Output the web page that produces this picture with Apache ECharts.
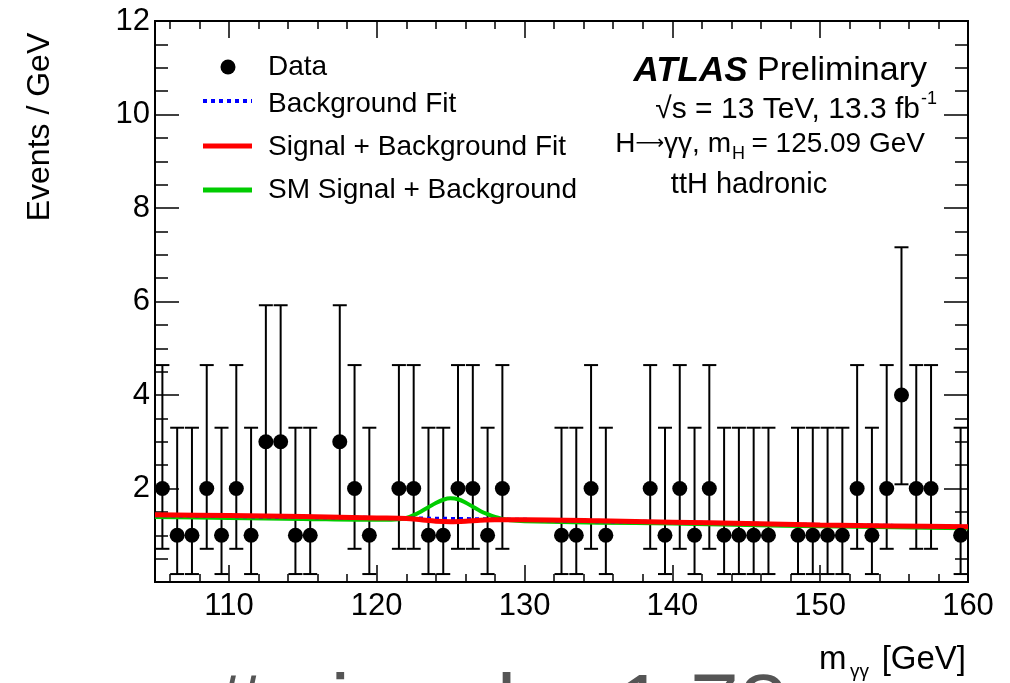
<!DOCTYPE html>
<html>
<head>
<meta charset="utf-8">
<script src="https://cdn.jsdelivr.net/npm/echarts@6/dist/echarts.min.js"></script>
<style>html,body{margin:0;padding:0;background:#fff;}#chart{width:1010px;height:683px;}</style>
</head>
<body>
<div id="chart"></div>
<script>
// ---- data ----
const massBins = [105.5,106.5,107.5,108.5,109.5,110.5,111.5,112.5,113.5,114.5,115.5,117.5,118.5,119.5,121.5,122.5,123.5,124.5,125.5,126.5,127.5,128.5,132.5,133.5,134.5,135.5,138.5,139.5,140.5,141.5,142.5,143.5,144.5,145.5,146.5,148.5,149.5,150.5,151.5,152.5,153.5,154.5,155.5,156.5,157.5,159.5];
const events = [2,1,1,2,1,2,1,3,3,1,1,3,2,1,2,2,1,1,2,2,1,2,1,1,2,1,2,1,2,1,2,1,1,1,1,1,1,1,1,2,1,2,4,2,2,1];
const barLow = [0.71,0.17,0.17,0.71,0.17,0.71,0.17,1.37,1.37,0.17,0.17,1.37,0.71,0.17,0.71,0.71,0.17,0.17,0.71,0.71,0.17,0.71,0.17,0.17,0.71,0.17,0.71,0.17,0.71,0.17,0.71,0.17,0.17,0.17,0.17,0.17,0.17,0.17,0.17,0.71,0.17,0.71,2.09,0.71,0.71,0.17];
const barHigh = [4.64,3.30,3.30,4.64,3.30,4.64,3.30,5.92,5.92,3.30,3.30,5.92,4.64,3.30,4.64,4.64,3.30,3.30,4.64,4.64,3.30,4.64,3.30,3.30,4.64,3.30,4.64,3.30,4.64,3.30,4.64,3.30,3.30,3.30,3.30,3.30,3.30,3.30,3.30,4.64,3.30,4.64,7.16,4.64,4.64,3.30];

const bkgMass = [105,110,115,120,125,130,135,140,145,150,155,160];
const bkgFit  = [1.43,1.41,1.39,1.37,1.35,1.33,1.30,1.28,1.25,1.22,1.20,1.18];

const sbMass = [105,110,115,120,122,123,124,125,126,127,128,130,135,140,145,150,155,160];
const sbFit  = [1.44,1.42,1.40,1.37,1.36,1.33,1.30,1.29,1.30,1.32,1.33,1.33,1.31,1.28,1.25,1.22,1.20,1.18];

const smMass = [105,110,115,120,121,121.5,122,122.5,123,123.5,124,124.5,125,125.5,126,126.5,127,127.5,128,128.5,129,130,135,140,145,150,155,160];
const smFit  = [1.39,1.37,1.35,1.33,1.33,1.34,1.37,1.43,1.51,1.60,1.69,1.76,1.79,1.77,1.70,1.61,1.52,1.45,1.39,1.35,1.32,1.30,1.27,1.25,1.22,1.19,1.17,1.15];

const xMajorTicks = [110,120,130,140,150,160];
const xMinorTicks = [106,108,112,114,116,118,122,124,126,128,132,134,136,138,142,144,146,148,152,154,156,158];

const FONT = '"Liberation Sans", Arial, Helvetica, sans-serif';

const chart = echarts.init(document.getElementById('chart'), null, {renderer:'canvas'});

function pairs(xs, ys){ return xs.map((x,i)=>[x, ys[i]]); }

function xAx(pos, major, labels){
  return {
    type:'value', min:105, max:160, position:pos,
    axisLine:{show:true, onZero:false, lineStyle:{color:'#000', width:2}},
    axisTick:{show:true, inside:true, length: major?17:8, customValues: major?xMajorTicks:xMinorTicks, lineStyle:{color:'#000', width:1.5}},
    axisLabel:{show:labels, customValues:xMajorTicks, fontSize:31, color:'#000', fontFamily:FONT, margin:9},
    splitLine:{show:false}
  };
}
function yAx(pos, labels){
  return {
    type:'value', min:0, max:12, interval:2, position:pos,
    axisLine:{show:true, onZero:false, lineStyle:{color:'#000', width:2}},
    axisTick:{show:true, inside:true, length:24, lineStyle:{color:'#000', width:1.5}},
    minorTick:{show:true, splitNumber:4, length:13, lineStyle:{color:'#000', width:1.5}},
    axisLabel:{show:labels, fontSize:31, color:'#000', fontFamily:FONT, margin:5,
      formatter:(v)=> v===0 ? '' : String(v)},
    splitLine:{show:false}, minorSplitLine:{show:false}
  };
}

const errData = massBins.map((m,i)=>[m, barLow[i], barHigh[i]]);

const option = {
  backgroundColor:'#fff',
  animation:false,
  grid:{left:155, right:42, top:21, bottom:101, containLabel:false},
  xAxis:[xAx('bottom',true,true), xAx('bottom',false,false), xAx('top',true,false), xAx('top',false,false)],
  yAxis:[yAx('left',true), yAx('right',false)],
  series:[
    {
      type:'custom', name:'errors', xAxisIndex:0, yAxisIndex:0, z:3,
      renderItem:function(params, api){
        const x = api.value(0);
        const p1 = api.coord([x, api.value(1)]);
        const p2 = api.coord([x, api.value(2)]);
        const hw = 7;
        const st = {stroke:'#000', lineWidth:2};
        return {type:'group', children:[
          {type:'line', shape:{x1:p1[0], y1:p1[1], x2:p2[0], y2:p2[1]}, style:st},
          {type:'line', shape:{x1:p1[0]-hw, y1:p1[1], x2:p1[0]+hw, y2:p1[1]}, style:st},
          {type:'line', shape:{x1:p2[0]-hw, y1:p2[1], x2:p2[0]+hw, y2:p2[1]}, style:st}
        ]};
      },
      data: errData
    },
    {
      type:'line', name:'SM Signal + Background', xAxisIndex:0, yAxisIndex:0, z:4,
      data: pairs(smMass, smFit), showSymbol:false, smooth:0.3,
      lineStyle:{color:'#00cc00', width:4}
    },
    {
      type:'line', name:'Background Fit', xAxisIndex:0, yAxisIndex:0, z:5,
      data: pairs(bkgMass, bkgFit), showSymbol:false,
      lineStyle:{color:'#0000ff', width:4, type:[4,4]}
    },
    {
      type:'line', name:'Signal + Background Fit', xAxisIndex:0, yAxisIndex:0, z:6,
      data: pairs(sbMass, sbFit), showSymbol:false, smooth:0.3,
      lineStyle:{color:'#ff0000', width:5}
    },
    {
      type:'scatter', name:'Data', xAxisIndex:0, yAxisIndex:0, z:7,
      data: pairs(massBins, events), symbol:'circle', symbolSize:15,
      itemStyle:{color:'#000', opacity:1}
    }
  ],
  graphic:[
    // legend
    {type:'circle', shape:{cx:228, cy:67, r:7.5}, style:{fill:'#000'}},
    {type:'line', shape:{x1:203, y1:101, x2:252, y2:101}, style:{stroke:'#0000ff', lineWidth:4, lineDash:[4,4]}},
    {type:'line', shape:{x1:203, y1:146, x2:252, y2:146}, style:{stroke:'#ff0000', lineWidth:5}},
    {type:'line', shape:{x1:203, y1:190, x2:252, y2:190}, style:{stroke:'#00cc00', lineWidth:5}},
    {type:'text', x:268, y:67, style:{text:'Data', font:'28px '+FONT, fill:'#000', textAlign:'left', textVerticalAlign:'middle'}},
    {type:'text', x:268, y:104, style:{text:'Background Fit', font:'28px '+FONT, fill:'#000', textAlign:'left', textVerticalAlign:'middle'}},
    {type:'text', x:268, y:147, style:{text:'Signal + Background Fit', font:'28px '+FONT, fill:'#000', textAlign:'left', textVerticalAlign:'middle'}},
    {type:'text', x:268, y:190, style:{text:'SM Signal + Background', font:'28px '+FONT, fill:'#000', textAlign:'left', textVerticalAlign:'middle'}},
    // ATLAS label
    {type:'text', x:927, y:71, style:{text:'{b|ATLAS}{n| Preliminary}', textAlign:'right', textVerticalAlign:'middle',
      rich:{b:{font:'italic bold 35px '+FONT, fill:'#000'}, n:{font:'34px '+FONT, fill:'#000'}}}},
    {type:'text', x:920, y:110, style:{text:'\u221As = 13 TeV, 13.3 fb', font:'30px '+FONT, fill:'#000', textAlign:'right', textVerticalAlign:'middle'}},
    {type:'text', x:921, y:99, style:{text:'-1', font:'18px '+FONT, fill:'#000', textAlign:'left', textVerticalAlign:'middle'}},
    {type:'text', x:731, y:144, style:{text:'{a|H}{r|\u27F6}{a|\u03B3\u03B3, m}', textAlign:'right', textVerticalAlign:'middle',
      rich:{a:{font:'28px '+FONT, fill:'#000'}, r:{font:'20px "DejaVu Sans", '+FONT, fill:'#000'}}}},
    {type:'text', x:732, y:154, style:{text:'H', font:'18px '+FONT, fill:'#000', textAlign:'left', textVerticalAlign:'middle'}},
    {type:'text', x:925, y:144, style:{text:' = 125.09 GeV', font:'28px '+FONT, fill:'#000', textAlign:'right', textVerticalAlign:'middle'}},
    {type:'text', x:749, y:185, style:{text:'ttH hadronic', font:'29px '+FONT, fill:'#000', textAlign:'center', textVerticalAlign:'middle'}},
    // axis titles
    {type:'text', x:40, y:127, rotation:Math.PI/2, style:{text:'Events / GeV', font:'32px '+FONT, fill:'#000', textAlign:'center', textVerticalAlign:'middle'}},
    {type:'text', x:819, y:660, style:{text:'m', font:'33px '+FONT, fill:'#000', textAlign:'left', textVerticalAlign:'middle'}},
    {type:'text', x:850, y:672, style:{text:'\u03B3\u03B3', font:'19px '+FONT, fill:'#000', textAlign:'left', textVerticalAlign:'middle'}},
    {type:'text', x:966, y:660, style:{text:'[GeV]', font:'33px '+FONT, fill:'#000', textAlign:'right', textVerticalAlign:'middle'}},
    // slide text cut at the bottom edge
    {type:'text', x:213, y:711, style:{text:'# signal = 1.78', font:'88px '+FONT, fill:'#555', textAlign:'left', textVerticalAlign:'middle'}}
  ]
};
chart.setOption(option);
</script>
</body>
</html>
